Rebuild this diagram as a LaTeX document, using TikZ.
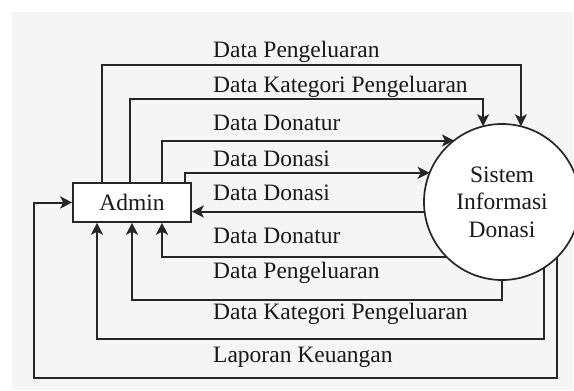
\documentclass[tikz,border=0pt]{standalone}
\usepackage{fontspec}
\setmainfont{Liberation Serif}
\usetikzlibrary{arrows.meta}
\begin{document}
\begin{tikzpicture}[x=1pt,y=-1pt,
  flow/.style={line width=2pt, draw=black!85, -{Stealth[length=12pt,width=12pt,inset=3pt]}},
  lbl/.style={anchor=base west, inner sep=0pt, font=\fontsize{23.5}{27.5}\selectfont, text=black!90},
  entity/.style={draw=black!85, line width=1.6pt, fill=white, minimum width=118pt, minimum height=39pt, inner sep=0pt, font=\fontsize{23.5}{27.5}\selectfont, text=black!90},
  process/.style={circle, draw=black!85, line width=1.7pt, fill=white, minimum size=156pt, inner sep=0pt, outer sep=0pt, align=center, font=\fontsize{23.5}{27.5}\selectfont, text=black!90}]
\useasboundingbox (0,0) rectangle (574,391);
\clip (0,0) rectangle (574,391);
\fill[black!4] (12,12) rectangle (573,390);

\node[entity] (A) at (132,202.5) {Admin};
\node[process] (S) at (502,202) {Sistem\\Informasi\\Donasi};
\coordinate (L) at (34,378);

% Admin -> Sistem
\draw[flow] ([xshift=-30pt]A.north) -- ++(0,-117.3) -| (S.76.7);
\draw[flow] ([xshift=-2pt]A.north) -- ++(0,-83.3) -| (S.104.1);
\draw[flow] ([xshift=30pt]A.north) |- (S.128.6);
\draw[flow] ([xshift=53pt]A.north) |- (S.158.2);

% Sistem -> Admin
\draw[flow] (S.187.4) -- (S.187.4 -| A.east);
\draw[flow] (S.225.9) -| ([xshift=30pt]A.south);
\draw[flow] (S.270) -- ++(0,20) -| (A.south);
\draw[flow] (S.303.5) -- ++(0,72) -| ([xshift=-35pt]A.south);
\draw[flow] (S.315.9) |- (L) |- (A.west);

% labels
\node[lbl] (l1) at (213,57) {Data Pengeluaran};
\node[lbl] (l2) at (213,92) {Data Kategori Pengeluaran};
\node[lbl] (l3) at (213,130) {Data Donatur};
\node[lbl] (l4) at (213,166) {Data Donasi};
\node[lbl] (l5) at (213,200) {Data Donasi};
\node[lbl] (l6) at (213,243) {Data Donatur};
\node[lbl] (l7) at (213,278) {Data Pengeluaran};
\node[lbl] (l8) at (213,319) {Data Kategori Pengeluaran};
\node[lbl] (l9) at (213,362) {Laporan Keuangan};
\end{tikzpicture}
\end{document}
